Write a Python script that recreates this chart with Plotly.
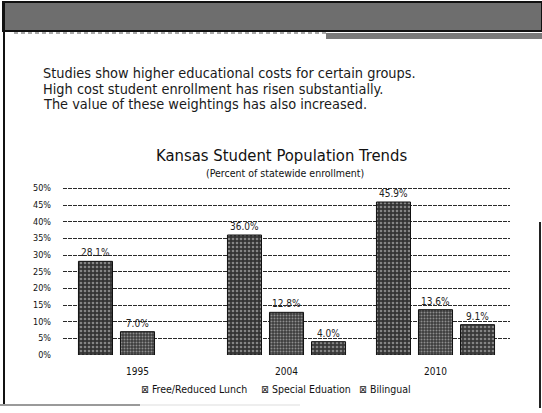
import plotly.graph_objects as go

# Enrollment shares (percent of statewide enrollment)
years = ["1995", "2004", "2010"]
free_reduced_lunch = [28.1, 36.0, 45.9]
special_education = [7.0, 12.8, 13.6]
bilingual = [None, 4.0, 9.1]
series_names = ["Free/Reduced Lunch", "Special Eduation", "Bilingual"]
y_ticks = [0, 5, 10, 15, 20, 25, 30, 35, 40, 45, 50]
y_tick_labels = [f"{t}%" for t in y_ticks]

W, H = 542, 413
ML, MR, MT, MB = 63, 32, 185, 58
PW, PH = W - ML - MR, H - MT - MB


def px(x):
    return (x - ML) / PW


def py(y):
    return (H - MB - y) / PH


FONT = "DejaVu Sans Condensed, DejaVu Sans, sans-serif"


def stipple(base, fg, size):
    return dict(
        color=base,
        line=dict(color="#111111", width=1),
        pattern=dict(shape=".", fgcolor=fg, bgcolor=base, size=size, solidity=0.35),
    )


fig = go.Figure()
series = [
    (series_names[0], free_reduced_lunch, stipple("#333333", "#d8d8d8", 4)),
    (series_names[1], special_education, stipple("#3c3c3c", "#e0e0e0", 3)),
    (series_names[2], bilingual, stipple("#383838", "#d0d0d0", 4)),
]
for name, vals, marker in series:
    fig.add_trace(go.Bar(
        name=name, x=years, y=vals, marker=marker, showlegend=False,
        text=[None if v is None else f"{v:.1f}%" for v in vals],
        textposition="outside", cliponaxis=False,
        textfont=dict(family=FONT, size=10, color="#222222"),
    ))

shapes = [
    # grainy banner across the top
    dict(type="rect", xref="paper", yref="paper", x0=px(3), x1=px(542), y0=py(31), y1=py(2),
         fillcolor="#6e6e6e", line=dict(color="#111111", width=2), layer="above"),
    dict(type="line", xref="paper", yref="paper", x0=px(14), x1=px(326), y0=py(33), y1=py(33),
         line=dict(color="#555555", width=1, dash="4px,3px")),
    dict(type="rect", xref="paper", yref="paper", x0=px(326), x1=px(542), y0=py(39), y1=py(33),
         fillcolor="#7a7a7a", line=dict(width=0)),
    # page border
    dict(type="line", xref="paper", yref="paper", x0=px(4), x1=px(4), y0=py(406), y1=py(2),
         line=dict(color="#111111", width=2)),
    dict(type="line", xref="paper", yref="paper", x0=px(540), x1=px(540), y0=py(408), y1=py(222),
         line=dict(color="#222222", width=2)),
    dict(type="line", xref="paper", yref="paper", x0=px(0), x1=px(140), y0=py(405), y1=py(405),
         line=dict(color="#9a9a9a", width=2)),
    dict(type="line", xref="paper", yref="paper", x0=px(140), x1=px(300), y0=py(405), y1=py(405),
         line=dict(color="#dddddd", width=1)),
]

body = [
    "Studies show higher educational costs for certain groups.",
    "High cost student enrollment has risen substantially.",
    "The value of these weightings has also increased.",
]
annotations = []
for i, line in enumerate(body):
    annotations.append(dict(
        text=line, xref="paper", yref="paper", x=px(41), y=py(73 + 15.5 * i),
        xanchor="left", yanchor="middle", showarrow=False,
        font=dict(family=FONT, size=14.4, color="#1a1a1a"),
    ))
annotations.append(dict(
    text="Kansas Student Population Trends", xref="paper", yref="paper",
    x=px(281), y=py(155), xanchor="center", yanchor="middle", showarrow=False,
    font=dict(family=FONT, size=16.5, color="#111111"),
))
annotations.append(dict(
    text="(Percent of statewide enrollment)", xref="paper", yref="paper",
    x=px(285), y=py(173), xanchor="center", yanchor="middle", showarrow=False,
    font=dict(family=FONT, size=10.5, color="#111111"),
))

# compact legend row beneath the categories
legend_x = [139, 259, 357]
for name, lx in zip(series_names, legend_x):
    annotations.append(dict(
        text="⊠ " + name, xref="paper", yref="paper", x=px(lx), y=py(389),
        xanchor="left", yanchor="middle", showarrow=False,
        font=dict(family=FONT, size=10.5, color="#111111"),
    ))

fig.update_layout(
    width=W, height=H,
    margin=dict(l=ML, r=MR, t=MT, b=MB),
    paper_bgcolor="white", plot_bgcolor="white",
    barmode="group", bargap=0.154, bargroupgap=0.19,
    font=dict(family=FONT, size=9, color="#111111"),
    showlegend=False,
    shapes=shapes, annotations=annotations,
    xaxis=dict(showgrid=False, showline=False, ticks="", ticklabelstandoff=9,
               tickfont=dict(size=10)),
    yaxis=dict(range=[0, 51], tickvals=y_ticks, ticktext=y_tick_labels,
               showgrid=True, gridcolor="#2a2a2a", gridwidth=1, griddash="4px,1px",
               zeroline=False, showline=False, ticks="", ticklabelstandoff=11,
               tickfont=dict(size=9)),
)

fig.write_html("out.html")
